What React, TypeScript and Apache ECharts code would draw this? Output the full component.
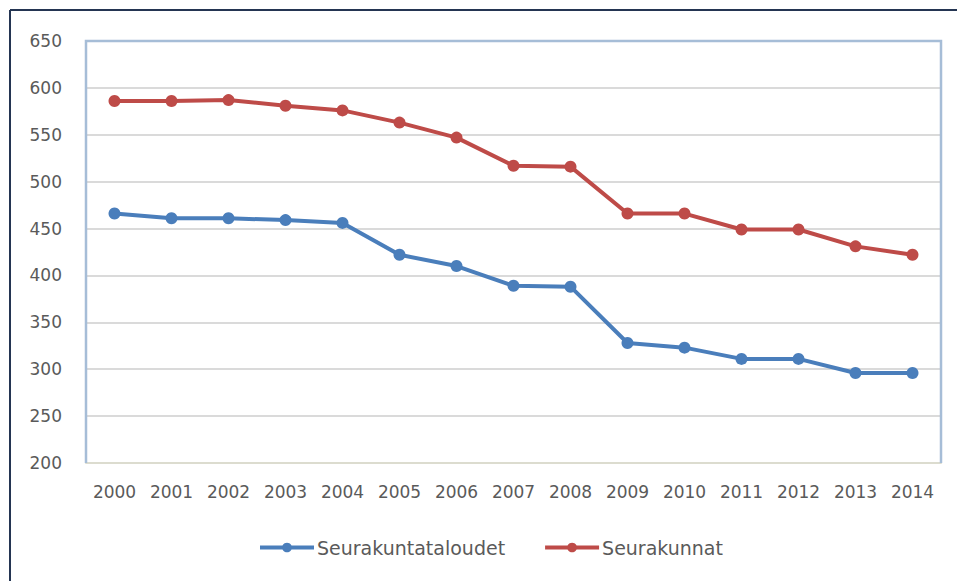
import React, { useEffect, useRef } from "react";
import * as echarts from "echarts";

const years = ["2000","2001","2002","2003","2004","2005","2006","2007","2008","2009","2010","2011","2012","2013","2014"];
const seurakuntataloudet = [466, 461, 461, 459, 456, 422, 410, 389, 388, 328, 323, 311, 311, 296, 296];
const seurakunnat = [586, 586, 587, 581, 576, 563, 547, 517, 516, 466, 466, 449, 449, 431, 422];
const yMin = 200;
const yMax = 650;
const yStep = 50;

export default function App() {
  const ref = useRef<HTMLDivElement>(null);
  useEffect(() => {
    if (!ref.current) return;
    const chart = echarts.init(ref.current, undefined, { renderer: "svg" });
    const font = "DejaVu Sans";
    chart.setOption({
      animation: false,
      backgroundColor: "#ffffff",
      textStyle: { fontFamily: font },
      grid: { left: 86, top: 41, right: 16, bottom: 118, containLabel: false },
      legend: {
        left: 258,
        top: 538,
        padding: 0,
        itemWidth: 54,
        itemHeight: 12,
        itemGap: 38,
        lineStyle: { width: 4 },
        textStyle: { color: "#5a5a5a", fontSize: 19, fontFamily: font, padding: [0, 0, 0, -2] },
        data: ["Seurakuntataloudet", "Seurakunnat"],
      },
      xAxis: {
        type: "category",
        data: years,
        boundaryGap: true,
        axisLine: { show: true, lineStyle: { color: "#dcdccf", width: 2 } },
        axisTick: { show: false },
        axisLabel: { color: "#5a5a5a", fontSize: 17, margin: 20, fontFamily: font },
      },
      yAxis: {
        type: "value",
        min: yMin,
        max: yMax,
        interval: yStep,
        axisLine: { show: false },
        axisTick: { show: false },
        axisLabel: { color: "#5a5a5a", fontSize: 17, margin: 24, fontFamily: font },
        splitLine: { show: true, lineStyle: { color: "#dadada", width: 2 } },
      },
      series: [
        {
          name: "Seurakuntataloudet",
          type: "line",
          data: seurakuntataloudet,
          symbol: "circle",
          symbolSize: 12,
          color: "#4a7ebb",
          lineStyle: { width: 4, color: "#4a7ebb" },
          itemStyle: { color: "#4a7ebb" },
        },
        {
          name: "Seurakunnat",
          type: "line",
          data: seurakunnat,
          symbol: "circle",
          symbolSize: 12,
          color: "#be4b48",
          lineStyle: { width: 4, color: "#be4b48" },
          itemStyle: { color: "#be4b48" },
        },
      ],
      graphic: [
        {
          type: "polyline",
          z: 100,
          silent: true,
          shape: { points: [[86, 463], [86, 41], [941, 41], [941, 463]] },
          style: { stroke: "#a6bdd7", lineWidth: 2.5, fill: null },
        },
        {
          type: "line",
          z: 100,
          silent: true,
          shape: { x1: 10, y1: 10, x2: 957, y2: 10 },
          style: { stroke: "#243552", lineWidth: 2 },
        },
        {
          type: "line",
          z: 100,
          silent: true,
          shape: { x1: 10, y1: 10, x2: 10, y2: 581 },
          style: { stroke: "#243552", lineWidth: 2 },
        },
      ],
    });
    return () => chart.dispose();
  }, []);
  return (
    <div
      ref={ref}
      style={{ position: "fixed", left: 0, top: 0, width: 957, height: 581, background: "#fff" }}
    />
  );
}
